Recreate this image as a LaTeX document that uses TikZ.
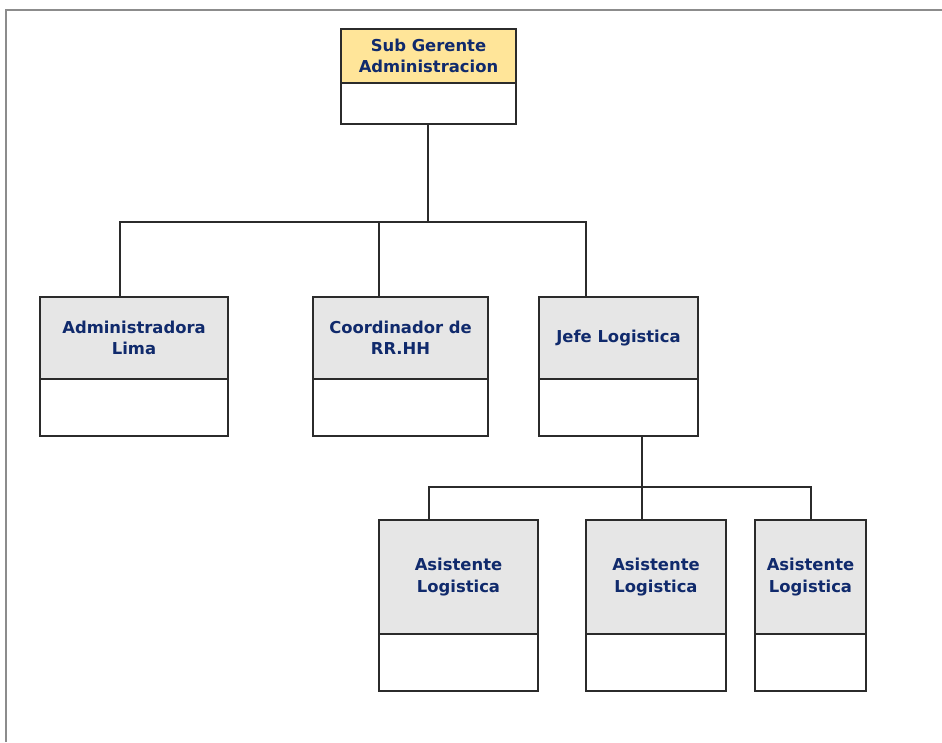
\documentclass[tikz,border=0pt]{standalone}
\usepackage{fontspec}
\setmainfont{DejaVu Sans}
\definecolor{navy}{HTML}{102A6C}
\definecolor{hdrgray}{HTML}{E6E6E6}
\definecolor{hdryel}{HTML}{FFE599}
\definecolor{framegray}{HTML}{8C8C8C}
\definecolor{edge}{HTML}{2B2B2B}
\begin{document}
\begin{tikzpicture}[x=1pt,y=-1pt,
  hdr/.style={draw=edge,line width=2pt,inner sep=0pt,anchor=north west,text=navy,
    font=\bfseries\fontsize{16.4}{21.5}\selectfont,align=center,fill=hdrgray},
  bodybox/.style={draw=edge,line width=2pt,inner sep=0pt,anchor=north west,fill=white},
  link/.style={line width=1.8pt,draw=edge}]
\useasboundingbox (0,0) rectangle (942,742);
\fill[white] (0,0) rectangle (942,742);
\draw[framegray,line width=2.5pt] (6,742) -- (6,10) -- (942,10);

% top
\node[hdr,fill=hdryel,minimum width=175pt,minimum height=54pt] (h0) at (340,28) {Sub Gerente\\Administracion};
\node[bodybox,minimum width=175pt,minimum height=41pt] (b0) at (340,82) {};

% second row
\node[hdr,minimum width=188pt,minimum height=82pt] (h1) at (39,296) {Administradora\\Lima};
\node[bodybox,minimum width=188pt,minimum height=57pt] (b1) at (39,378) {};
\node[hdr,minimum width=175pt,minimum height=82pt] (h2) at (312,296) {Coordinador de\\RR.HH};
\node[bodybox,minimum width=175pt,minimum height=57pt] (b2) at (312,378) {};
\node[hdr,minimum width=159pt,minimum height=82pt] (h3) at (538,296) {Jefe Logistica};
\node[bodybox,minimum width=159pt,minimum height=57pt] (b3) at (538,378) {};

% third row
\node[hdr,minimum width=159pt,minimum height=114pt] (h4) at (378,519) {Asistente\\Logistica};
\node[bodybox,minimum width=159pt,minimum height=57pt] (b4) at (378,633) {};
\node[hdr,minimum width=140pt,minimum height=114pt] (h5) at (585,519) {Asistente\\Logistica};
\node[bodybox,minimum width=140pt,minimum height=57pt] (b5) at (585,633) {};
\node[hdr,minimum width=111pt,minimum height=114pt] (h6) at (754,519) {Asistente\\Logistica};
\node[bodybox,minimum width=111pt,minimum height=57pt] (b6) at (754,633) {};

% connector points
\coordinate (j0) at (428,222);
\coordinate (bl) at (120,222);
\coordinate (bm) at (379,222);
\coordinate (br) at (586,222);
\coordinate (a1) at (120,296);
\coordinate (a2) at (379,296);
\coordinate (a3) at (586,296);
\coordinate (s3) at (642,435);
\coordinate (j3) at (642,487);
\coordinate (cl) at (429,487);
\coordinate (cr) at (811,487);
\coordinate (a4) at (429,519);
\coordinate (a5) at (642,519);
\coordinate (a6) at (811,519);

\draw[link] (b0.south -| j0) -- (j0);
\draw[link] (a1) -- (bl) -- (br) -- (a3);
\draw[link] (bm) -- (a2);
\draw[link] (s3) -- (a5);
\draw[link] (a4) -- (cl) -- (cr) -- (a6);
\end{tikzpicture}
\end{document}
